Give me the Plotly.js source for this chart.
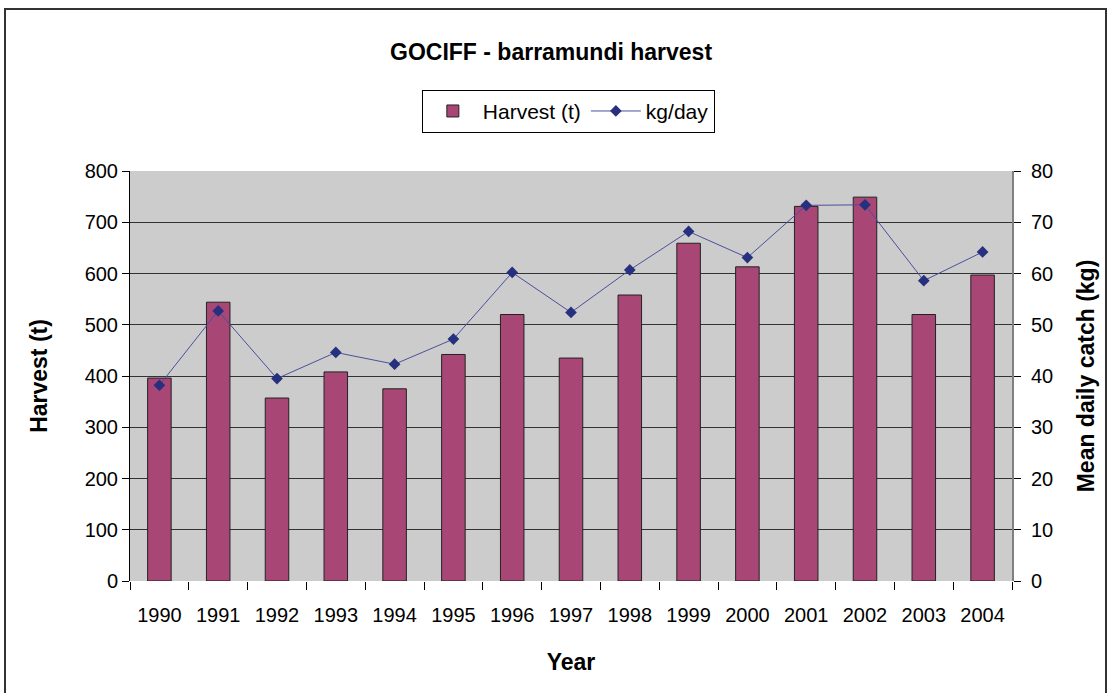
<!DOCTYPE html>
<html>
<head>
<meta charset="utf-8">
<script src="https://cdn.plot.ly/plotly-3.0.1.min.js"></script>
<style>
  html, body { margin: 0; padding: 0; background: #ffffff; }
  #frame { position: absolute; left: 4px; top: 8px; width: 1103px; height: 700px; border: 2px solid #333333; box-sizing: border-box; }
  #chart { position: absolute; left: 0; top: 0; width: 1111px; height: 693px; }
</style>
</head>
<body>
<div id="frame"></div>
<div id="chart"></div>
<script>
const years = ['1990','1991','1992','1993','1994','1995','1996','1997','1998','1999','2000','2001','2002','2003','2004'];
const harvest = [396, 544, 357, 408, 375, 442, 520, 435, 558, 659, 613, 731, 749, 520, 597];
const kgPerDay = [38.2, 52.7, 39.5, 44.6, 42.3, 47.2, 60.2, 52.4, 60.7, 68.2, 63.1, 73.3, 73.4, 58.6, 64.2];
const leftTicks = [0, 100, 200, 300, 400, 500, 600, 700, 800];
const rightTicks = [0, 10, 20, 30, 40, 50, 60, 70, 80];

const fontFam = 'Arial, "Liberation Sans", sans-serif';

const traces = [
  {
    type: 'bar',
    name: 'Harvest (t)',
    x: years,
    y: harvest,
    marker: { color: '#A84676', line: { color: '#222222', width: 1 } },
    yaxis: 'y'
  },
  {
    type: 'scatter',
    mode: 'lines+markers',
    name: 'kg/day',
    x: years,
    y: kgPerDay,
    line: { color: '#4B4F9E', width: 1 },
    marker: { symbol: 'diamond', size: 9, color: '#26307F' },
    yaxis: 'y2'
  }
];

const layout = {
  width: 1111,
  height: 693,
  margin: { l: 130, r: 99, t: 171, b: 112 },
  paper_bgcolor: 'rgba(0,0,0,0)',
  plot_bgcolor: '#CCCCCC',
  font: { family: fontFam, color: '#000000', size: 20 },
  title: {
    text: '<b>GOCIFF - barramundi harvest</b>',
    font: { family: fontFam, size: 23, color: '#000000' },
    x: 0.496, xanchor: 'center',
    y: 0.925, yanchor: 'middle'
  },
  bargap: 0.6,
  showlegend: true,
  legend: {
    orientation: 'h',
    x: 0.497, xanchor: 'center',
    y: 1.198, yanchor: 'top',
    bordercolor: '#000000', borderwidth: 1,
    bgcolor: '#FFFFFF',
    font: { family: fontFam, size: 21, color: '#000000' },
    itemwidth: 50
  },
  xaxis: {
    type: 'category',
    range: [-0.5, 14.5],
    tickson: 'boundaries',
    ticks: 'outside', ticklen: 8, tickcolor: '#000000', tickwidth: 1,
    ticklabelstandoff: 20,
    showline: false,
    showgrid: false,
    tickfont: { family: fontFam, size: 20, color: '#000000' },
    title: { text: '<b>Year</b>', font: { family: fontFam, size: 23, color: '#000000' }, standoff: 28 },
    fixedrange: true
  },
  yaxis: {
    range: [0, 800],
    tickvals: leftTicks,
    ticktext: leftTicks.map(String),
    ticks: 'outside', ticklen: 7, tickcolor: '#000000', tickwidth: 1,
    showline: true, linecolor: '#000000', linewidth: 1,
    showgrid: true, gridcolor: '#333333', gridwidth: 1,
    zeroline: false,
    tickfont: { family: fontFam, size: 20, color: '#000000' },
    title: { text: '<b>Harvest (t)</b>', font: { family: fontFam, size: 23, color: '#000000' }, standoff: 30 },
    fixedrange: true
  },
  yaxis2: {
    overlaying: 'y',
    side: 'right',
    range: [0, 80],
    tickvals: rightTicks,
    ticktext: rightTicks.map(String),
    ticks: 'outside', ticklen: 7, tickcolor: '#000000', tickwidth: 1,
    ticklabelstandoff: 6,
    showline: true, linecolor: '#808080', linewidth: 2,
    showgrid: false,
    zeroline: false,
    tickfont: { family: fontFam, size: 20, color: '#000000' },
    title: { text: '<b>Mean daily catch (kg)</b>', font: { family: fontFam, size: 23, color: '#000000' }, standoff: 26 },
    fixedrange: true
  }
};

Plotly.newPlot('chart', traces, layout, { displayModeBar: false, staticPlot: true });
</script>
</body>
</html>
